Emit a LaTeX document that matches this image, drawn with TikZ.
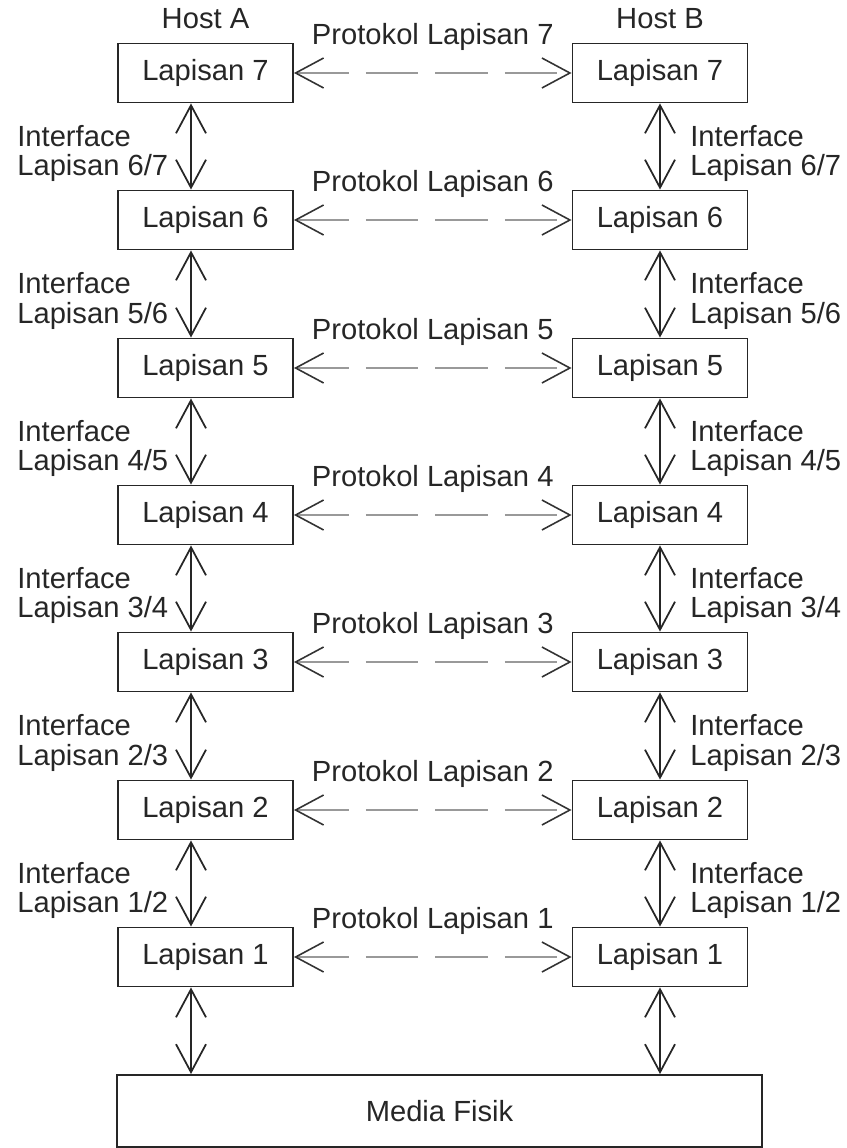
\documentclass[tikz,border=0pt]{standalone}
\usepackage{fontspec}
\setmainfont{Liberation Sans}
\usetikzlibrary{arrows.meta,positioning}

\begin{document}
\begin{tikzpicture}[x=0.02cm, y=-0.02cm,
		font=\fontsize{16.6}{17}\selectfont, text=black!85,
		>={Straight Barb[length=0.56cm, width=0.6cm]},
		layer/.style={draw=black!85, line width=1.1pt, minimum width=3.5cm, minimum height=1.18cm, inner sep=0pt},
		host/.style={inner sep=0pt},
		iface/.style={align=left, anchor=west, inner sep=0pt},
		link/.style={<->, line width=1pt, draw=black!85},
		proto/.style={{<[color=black!80]}-{>[color=black!80]}, line width=0.9pt, draw=black!40, dash pattern=on 1.05cm off 0.34cm}]
		\useasboundingbox (0, 0) rectangle (846, 1148);
		
		\path (205.5, 73)   node[layer] (a7) {Lapisan 7}
		      (205.5, 220)  node[layer] (a6) {Lapisan 6}
		      (205.5, 368)  node[layer] (a5) {Lapisan 5}
		      (205.5, 515)  node[layer] (a4) {Lapisan 4}
		      (205.5, 662)  node[layer] (a3) {Lapisan 3}
		      (205.5, 810)  node[layer] (a2) {Lapisan 2}
		      (205.5, 957)  node[layer] (a1) {Lapisan 1}
		      (660, 73)     node[layer] (b7) {Lapisan 7}
		      (660, 220)    node[layer] (b6) {Lapisan 6}
		      (660, 368)    node[layer] (b5) {Lapisan 5}
		      (660, 515)    node[layer] (b4) {Lapisan 4}
		      (660, 662)    node[layer] (b3) {Lapisan 3}
		      (660, 810)    node[layer] (b2) {Lapisan 2}
		      (660, 957)    node[layer] (b1) {Lapisan 1}
		      (439.5, 1111) node[layer, minimum width=12.9cm, minimum height=1.44cm] (media) {Media Fisik};
		
		\node[host, above=0.26cm of a7] (hosta) {Host A};
		\node[host, above=0.26cm of b7] (hostb) {Host B};
		
		\coordinate (ax) at (191, 0);
		\coordinate (bx) at (660, 0);
		
		\draw[link] (a7.south -| ax) -- (a6.north -| ax);
		\draw[link] (a6.south -| ax) -- (a5.north -| ax);
		\draw[link] (a5.south -| ax) -- (a4.north -| ax);
		\draw[link] (a4.south -| ax) -- (a3.north -| ax);
		\draw[link] (a3.south -| ax) -- (a2.north -| ax);
		\draw[link] (a2.south -| ax) -- (a1.north -| ax);
		\draw[link] (a1.south -| ax) -- (media.north -| ax);
		\draw[link] (b7.south -| bx) -- (b6.north -| bx);
		\draw[link] (b6.south -| bx) -- (b5.north -| bx);
		\draw[link] (b5.south -| bx) -- (b4.north -| bx);
		\draw[link] (b4.south -| bx) -- (b3.north -| bx);
		\draw[link] (b3.south -| bx) -- (b2.north -| bx);
		\draw[link] (b2.south -| bx) -- (b1.north -| bx);
		\draw[link] (b1.south -| bx) -- (media.north -| bx);
		
		\draw[proto] (a7) -- (b7) node[midway, yshift=0.72cm] (p7) {Protokol Lapisan 7};
		\draw[proto] (a6) -- (b6) node[midway, yshift=0.72cm] (p6) {Protokol Lapisan 6};
		\draw[proto] (a5) -- (b5) node[midway, yshift=0.72cm] (p5) {Protokol Lapisan 5};
		\draw[proto] (a4) -- (b4) node[midway, yshift=0.72cm] (p4) {Protokol Lapisan 4};
		\draw[proto] (a3) -- (b3) node[midway, yshift=0.72cm] (p3) {Protokol Lapisan 3};
		\draw[proto] (a2) -- (b2) node[midway, yshift=0.72cm] (p2) {Protokol Lapisan 2};
		\draw[proto] (a1) -- (b1) node[midway, yshift=0.72cm] (p1) {Protokol Lapisan 1};
		
		\path (17, 153.5)  node[iface] (ia67) {Interface\\Lapisan 6/7}
		      (17, 301)    node[iface] (ia56) {Interface\\Lapisan 5/6}
		      (17, 448.5)  node[iface] (ia45) {Interface\\Lapisan 4/5}
		      (17, 595.5)  node[iface] (ia34) {Interface\\Lapisan 3/4}
		      (17, 743)    node[iface] (ia23) {Interface\\Lapisan 2/3}
		      (17, 890.5)  node[iface] (ia12) {Interface\\Lapisan 1/2}
		      (690, 153.5) node[iface] (ib67) {Interface\\Lapisan 6/7}
		      (690, 301)   node[iface] (ib56) {Interface\\Lapisan 5/6}
		      (690, 448.5) node[iface] (ib45) {Interface\\Lapisan 4/5}
		      (690, 595.5) node[iface] (ib34) {Interface\\Lapisan 3/4}
		      (690, 743)   node[iface] (ib23) {Interface\\Lapisan 2/3}
		      (690, 890.5) node[iface] (ib12) {Interface\\Lapisan 1/2};
	\end{tikzpicture}
\end{document}
